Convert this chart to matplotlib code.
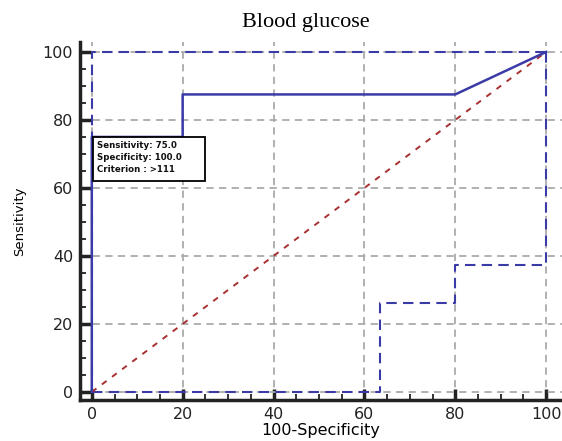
import matplotlib.pyplot as plt
from matplotlib.patches import Rectangle
from matplotlib.ticker import MultipleLocator

# ROC curve for blood glucose (100-Specificity vs Sensitivity)
roc_x = [0, 0, 20, 20, 80, 100]
roc_y = [0, 75, 75, 87.5, 87.5, 100]

# confidence bounds
upper_x = [0, 0, 100]
upper_y = [0, 100, 100]
lower_x = [0, 63.4, 63.4, 80, 80, 100, 100]
lower_y = [0, 0, 26.2, 26.2, 37.4, 37.4, 100]

# reference line
diag_x = [0, 100]
diag_y = [0, 100]

# optimal criterion
cut_sens = 75.0
cut_spec = 100.0
criterion = ">111"

ticks = [0, 20, 40, 60, 80, 100]

blue = "#3b3ba8"

fig = plt.figure(figsize=(5.62, 4.41), dpi=100)
ax = fig.add_axes([0.1423, 0.093, 0.8577, 0.812])

ax.plot(roc_x, roc_y, color=blue, lw=1.8, zorder=4)
ax.plot(upper_x, upper_y, color=blue, lw=1.5, dashes=(5, 3), zorder=3)
ax.plot(lower_x, lower_y, color=blue, lw=1.5, dashes=(5, 3), zorder=3)
ax.plot(diag_x, diag_y, color="#a83030", lw=1.4, dashes=(3, 3.5), zorder=3)

# criterion box anchored at the cut-off point
bx = 100 - cut_spec + 0.2
ax.add_patch(Rectangle((bx, cut_sens - 12.9), 24.7, 12.9, fc="white",
                       ec="black", lw=1.3, zorder=5))
ax.text(bx + 0.9, cut_sens - 1.2,
        f"Sensitivity: {cut_sens:.1f}\nSpecificity: {cut_spec:.1f}\nCriterion : {criterion}",
        fontsize=6.2, fontweight="bold", color="#111111", va="top", ha="left",
        linespacing=1.4, zorder=6)

ax.set_xlim(-2.6, 103.5)
ax.set_ylim(-2.35, 102.95)
ax.set_xticks(ticks)
ax.set_yticks(ticks)
ax.xaxis.set_minor_locator(MultipleLocator(5))
ax.yaxis.set_minor_locator(MultipleLocator(5))
ax.tick_params(which="major", direction="in", length=8, width=2.5,
               labelsize=11.5, colors="#222222", pad=5)
ax.tick_params(which="minor", direction="in", length=4, width=1.3,
               colors="#222222")

ax.grid(True, which="major", color="#aaaaaa", lw=1.3, dashes=(4, 3))
ax.set_axisbelow(True)

for side in ["top", "right"]:
    ax.spines[side].set_visible(False)
for side in ["left", "bottom"]:
    ax.spines[side].set_linewidth(2.5)
    ax.spines[side].set_color("#222222")

ax.set_xlabel("100-Specificity", fontsize=11.5, labelpad=1)
ax.set_ylabel("Sensitivity", fontsize=9.5, labelpad=12)
fig.text(0.545, 0.95, "Blood glucose", family="Liberation Serif",
         fontsize=16, ha="center", va="center")

fig.savefig("out.png", dpi=100)
